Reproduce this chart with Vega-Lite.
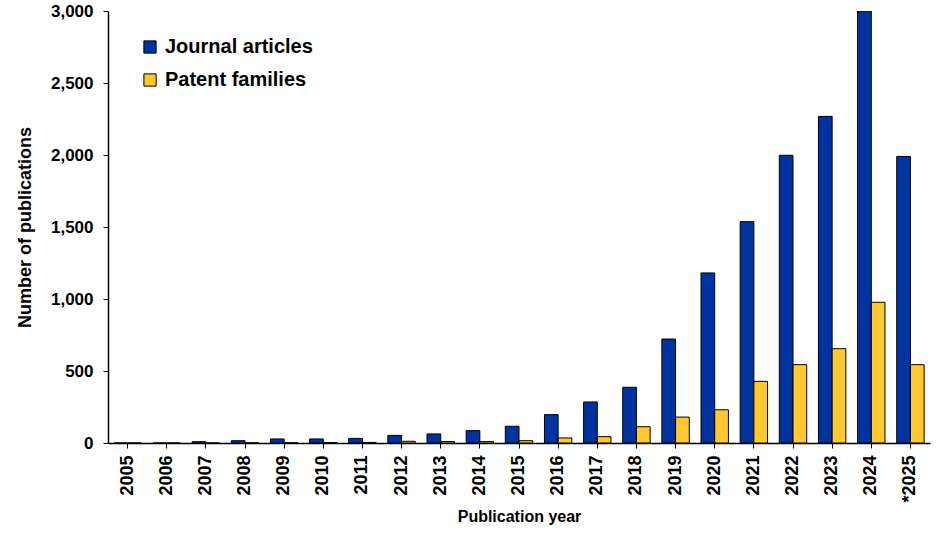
{
  "$schema": "https://vega.github.io/schema/vega-lite/v6.json",
  "autosize": {"type": "none"},
  "width": 822,
  "height": 432,
  "padding": {"left": 108, "top": 11, "right": 6, "bottom": 91},
  "background": "white",
  "config": {
    "view": {"stroke": null},
    "font": "Liberation Sans",
    "axis": {"labelFont": "Liberation Sans", "titleFont": "Liberation Sans", "labelColor": "#000", "titleColor": "#000", "domainColor": "#000", "tickColor": "#000"}
  },
  "data": {
    "values": [
      {"year": "2005", "series": "Journal articles", "count": 0},
      {"year": "2005", "series": "Patent families", "count": 0},
      {"year": "2006", "series": "Journal articles", "count": 0},
      {"year": "2006", "series": "Patent families", "count": 0},
      {"year": "2007", "series": "Journal articles", "count": 9},
      {"year": "2007", "series": "Patent families", "count": 0},
      {"year": "2008", "series": "Journal articles", "count": 16},
      {"year": "2008", "series": "Patent families", "count": 1},
      {"year": "2009", "series": "Journal articles", "count": 28},
      {"year": "2009", "series": "Patent families", "count": 2},
      {"year": "2010", "series": "Journal articles", "count": 28},
      {"year": "2010", "series": "Patent families", "count": 3},
      {"year": "2011", "series": "Journal articles", "count": 32},
      {"year": "2011", "series": "Patent families", "count": 4},
      {"year": "2012", "series": "Journal articles", "count": 53},
      {"year": "2012", "series": "Patent families", "count": 12},
      {"year": "2013", "series": "Journal articles", "count": 63},
      {"year": "2013", "series": "Patent families", "count": 10},
      {"year": "2014", "series": "Journal articles", "count": 86},
      {"year": "2014", "series": "Patent families", "count": 10},
      {"year": "2015", "series": "Journal articles", "count": 116},
      {"year": "2015", "series": "Patent families", "count": 16},
      {"year": "2016", "series": "Journal articles", "count": 197},
      {"year": "2016", "series": "Patent families", "count": 35},
      {"year": "2017", "series": "Journal articles", "count": 285},
      {"year": "2017", "series": "Patent families", "count": 44},
      {"year": "2018", "series": "Journal articles", "count": 387},
      {"year": "2018", "series": "Patent families", "count": 113},
      {"year": "2019", "series": "Journal articles", "count": 722},
      {"year": "2019", "series": "Patent families", "count": 180},
      {"year": "2020", "series": "Journal articles", "count": 1181},
      {"year": "2020", "series": "Patent families", "count": 231},
      {"year": "2021", "series": "Journal articles", "count": 1537},
      {"year": "2021", "series": "Patent families", "count": 428},
      {"year": "2022", "series": "Journal articles", "count": 1998},
      {"year": "2022", "series": "Patent families", "count": 544},
      {"year": "2023", "series": "Journal articles", "count": 2268},
      {"year": "2023", "series": "Patent families", "count": 655},
      {"year": "2024", "series": "Journal articles", "count": 3000},
      {"year": "2024", "series": "Patent families", "count": 977},
      {"year": "*2025", "series": "Journal articles", "count": 1990},
      {"year": "*2025", "series": "Patent families", "count": 544}
    ]
  },
  "mark": {"type": "bar", "stroke": "#000", "strokeWidth": 1, "clip": true},
  "encoding": {
    "x": {
      "field": "year",
      "type": "nominal",
      "sort": null,
      "scale": {"paddingInner": 0.3, "paddingOuter": 0.15},
      "axis": {
        "title": "Publication year",
        "titleFontSize": 16,
        "titleFontWeight": "bold",
        "titlePadding": 6,
        "labelAngle": 270,
        "labelFontSize": 18,
        "labelFontWeight": "bold",
        "labelPadding": 7,
        "tickSize": 5,
        "domainWidth": 1.5
      }
    },
    "xOffset": {"field": "series", "type": "nominal", "sort": ["Journal articles", "Patent families"], "scale": {"paddingInner": 0}},
    "y": {
      "field": "count",
      "type": "quantitative",
      "scale": {"domain": [0, 3000], "nice": false},
      "axis": {
        "title": "Number of publications",
        "titleFontSize": 18,
        "titleFontWeight": "bold",
        "titlePadding": 16,
        "values": [0, 500, 1000, 1500, 2000, 2500, 3000],
        "format": ",.0f",
        "labelFontSize": 17,
        "labelFontWeight": "bold",
        "labelPadding": 10,
        "tickSize": 5,
        "grid": false,
        "domainWidth": 1.5
      }
    },
    "color": {
      "field": "series",
      "type": "nominal",
      "sort": ["Journal articles", "Patent families"],
      "scale": {"domain": ["Journal articles", "Patent families"], "range": ["#0033a0", "#ffc832"]},
      "legend": {
        "title": null,
        "orient": "none",
        "legendX": 32,
        "legendY": 26,
        "symbolType": "square",
        "symbolSize": 150,
        "symbolStrokeColor": "#000",
        "symbolStrokeWidth": 1,
        "labelFontSize": 20,
        "labelFontWeight": "bold",
        "labelColor": "#000",
        "labelFont": "Liberation Sans",
        "rowPadding": 13,
        "labelOffset": 5
      }
    }
  }
}
